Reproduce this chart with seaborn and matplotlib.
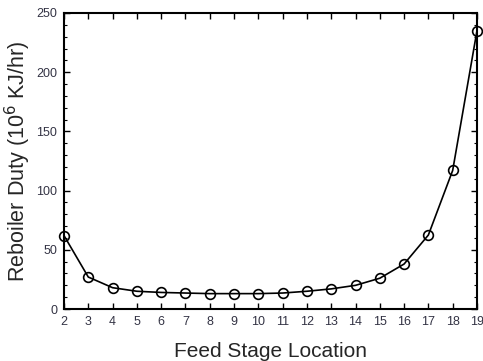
import matplotlib
matplotlib.use("Agg")
import matplotlib.pyplot as plt
import seaborn as sns
import pandas as pd
from matplotlib.ticker import MultipleLocator

stages = [2, 3, 4, 5, 6, 7, 8, 9, 10, 11, 12, 13, 14, 15, 16, 17, 18, 19]
duty = [62, 27, 18, 15, 14, 13.5, 13, 13, 13, 13.5, 15, 17, 20, 26, 38, 62.5, 117, 235]

df = pd.DataFrame({"stage": stages, "duty": duty})

sns.set_style("ticks")
plt.rcParams['font.family'] = ['Liberation Sans', 'DejaVu Sans']

fig = plt.figure(figsize=(4.83, 3.61), dpi=100)
ax = fig.add_axes([0.1325, 0.144, 0.855, 0.82])

sns.lineplot(data=df, x="stage", y="duty", ax=ax, color="black", linewidth=1.2,
             marker="o", markersize=7, markerfacecolor="none", markeredgecolor="black",
             markeredgewidth=1.2, clip_on=False)

ax.set_xlim(2, 19)
ax.set_ylim(0, 250)
ax.xaxis.set_major_locator(MultipleLocator(1))
ax.yaxis.set_major_locator(MultipleLocator(50))
ax.yaxis.set_minor_locator(MultipleLocator(10))
ax.tick_params(axis="both", which="both", direction="in", top=True, right=True,
               labelsize=9, colors="black", pad=5)
ax.tick_params(axis="both", which="major", length=4, width=1)
ax.tick_params(axis="y", which="minor", length=2, width=0.8)
for lab in ax.get_xticklabels() + ax.get_yticklabels():
    lab.set_color("#333344")
for s in ax.spines.values():
    s.set_linewidth(1.5)
    s.set_color("black")

ax.set_xlabel("Feed Stage Location", fontsize=15, labelpad=10)
ax.set_ylabel("Reboiler Duty (10$^6$ KJ/hr)", fontsize=15.5, labelpad=2)

fig.savefig("out.png", dpi=100)
